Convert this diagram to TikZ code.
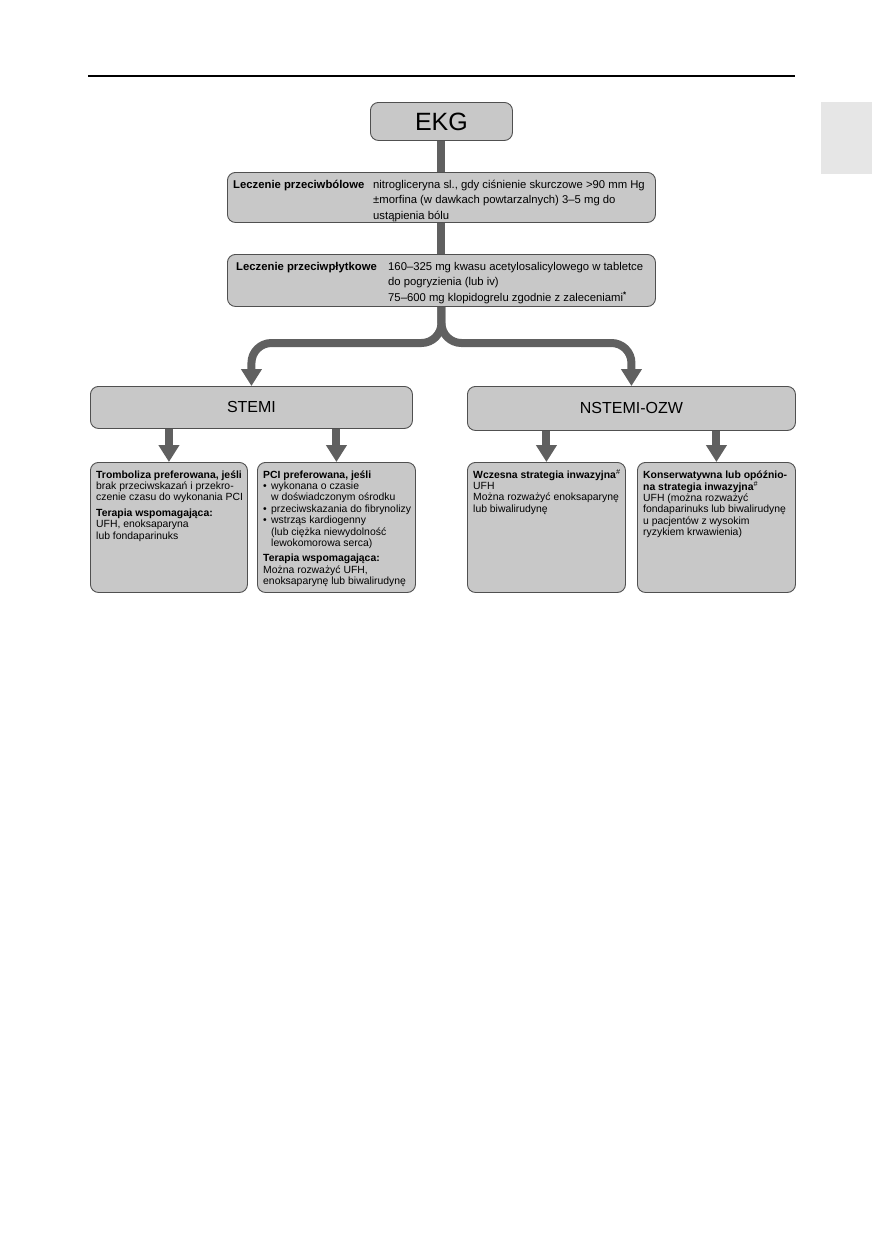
\documentclass[tikz,border=0pt]{standalone}
\usepackage{fontspec}
\setmainfont{Liberation Sans}
\usetikzlibrary{arrows.meta}

\definecolor{boxfill}{HTML}{C8C8C8}
\definecolor{boxedge}{HTML}{505050}
\definecolor{linkcol}{HTML}{606060}
\definecolor{tabfill}{HTML}{E6E6E6}

\newcommand{\sredni}{\fontsize{11.3}{15.5}\selectfont}
\newcommand{\maly}{\fontsize{10.4}{11.4}\selectfont}
\newcommand{\pkt}{\makebox[8pt][l]{•}}
\newcommand{\wc}{\hspace*{8pt}}

\begin{document}
\begin{tikzpicture}[x=1pt,y=-1pt,
  box/.style={draw=boxedge, line width=0.9pt, fill=boxfill, rounded corners=8pt, anchor=north west, inner sep=0pt},
  txt/.style={anchor=base west, inner sep=0pt},
  link/.style={draw=linkcol, line width=8pt},
  arr/.style={link, -{Triangle[width=20pt,length=17pt]}}]

  \useasboundingbox (0,0) rectangle (872,1254);
  % naglowek strony
  \draw[line width=1.2pt] (88,76) -- (795,76);
  \fill[tabfill] (821,102) rectangle (872,174);

  % gorna kolumna
  \node[box, minimum width=142pt, minimum height=38pt, font=\fontsize{25}{30}\selectfont] (ekg) at (370,102) {EKG};
  \node[box, minimum width=428pt, minimum height=50pt] (bol) at (227,172) {};
  \node[box, minimum width=428pt, minimum height=52pt] (plyt) at (227,254) {};

  \node[txt, font=\sredni] (bollbl) at (233,188) {\textbf{Leczenie przeciwbólowe}};
  \node[txt, font=\sredni] (boltxt) at (373,188) {\begin{tabular}[t]{@{}l@{}}nitrogliceryna sl., gdy ciśnienie skurczowe >90 mm Hg\\ ±morfina (w dawkach powtarzalnych) 3–5 mg do\\ ustąpienia bólu\end{tabular}};
  \node[txt, font=\sredni] (plytlbl) at (236,270) {\textbf{Leczenie przeciwpłytkowe}};
  \node[txt, font=\sredni] (plyttxt) at (388,270) {\begin{tabular}[t]{@{}l@{}}160–325 mg kwasu acetylosalicylowego w tabletce\\ do pogryzienia (lub iv)\\ 75–600 mg klopidogrelu zgodnie z zaleceniami\textsuperscript{\textbf{*}}\end{tabular}};

  % dwie galezie
  \node[box, minimum width=322pt, minimum height=42pt, font=\fontsize{16}{19}\selectfont] (stemi) at (90,386) {STEMI};
  \node[box, minimum width=328pt, minimum height=44pt, font=\fontsize{16}{19}\selectfont] (nstemi) at (467,386) {NSTEMI-OZW};

  \node[box, minimum width=157pt, minimum height=130pt] (tromb) at (90,462) {};
  \node[box, minimum width=158pt, minimum height=130pt] (pci) at (257,462) {};
  \node[box, minimum width=158pt, minimum height=130pt] (wczesna) at (467,462) {};
  \node[box, minimum width=158pt, minimum height=130pt] (konserw) at (637,462) {};

  \node[txt, font=\maly] (trombtxt) at (96,478) {\begin{tabular}[t]{@{}l@{}}\textbf{Tromboliza preferowana, jeśli}\\ brak przeciwskazań i przekro-\\ czenie czasu do wykonania PCI\\[4pt] \textbf{Terapia wspomagająca:}\\ UFH, enoksaparyna\\ lub fondaparinuks\end{tabular}};
  \node[txt, font=\maly] (pcitxt) at (263,478) {\begin{tabular}[t]{@{}l@{}}\textbf{PCI preferowana, jeśli}\\ \pkt wykonana o czasie\\ \wc w doświadczonym ośrodku\\ \pkt przeciwskazania do fibrynolizy\\ \pkt wstrząs kardiogenny\\ \wc (lub ciężka niewydolność\\ \wc lewokomorowa serca)\\[4pt] \textbf{Terapia wspomagająca:}\\ Można rozważyć UFH,\\ enoksaparynę lub biwalirudynę\end{tabular}};
  \node[txt, font=\maly] (wczesnatxt) at (473,478) {\begin{tabular}[t]{@{}l@{}}\textbf{Wczesna strategia inwazyjna}\textsuperscript{\#}\\ UFH\\ Można rozważyć enoksaparynę\\ lub biwalirudynę\end{tabular}};
  \node[txt, font=\maly] (konserwtxt) at (643,478) {\begin{tabular}[t]{@{}l@{}}\textbf{Konserwatywna lub opóźnio-}\\ \textbf{na strategia inwazyjna}\textsuperscript{\#}\\ UFH (można rozważyć\\ fondaparinuks lub biwalirudynę\\ u pacjentów z wysokim\\ ryzykiem krwawienia)\end{tabular}};

  % polaczenia
  \draw[link] (ekg.south) -- (bol.north);
  \draw[link] (bol.south) -- (plyt.north);
  \coordinate (rozw) at (441,343);
  \draw[arr, rounded corners=20pt] (plyt.south) |- (rozw -| stemi.north) -- (stemi.north);
  \draw[arr, rounded corners=20pt] (plyt.south) |- (rozw -| nstemi.north) -- (nstemi.north);
  \draw[arr] (tromb.north |- stemi.south) -- (tromb.north);
  \draw[arr] (pci.north |- stemi.south) -- (pci.north);
  \draw[arr] (wczesna.north |- nstemi.south) -- (wczesna.north);
  \draw[arr] (konserw.north |- nstemi.south) -- (konserw.north);
\end{tikzpicture}
\end{document}
